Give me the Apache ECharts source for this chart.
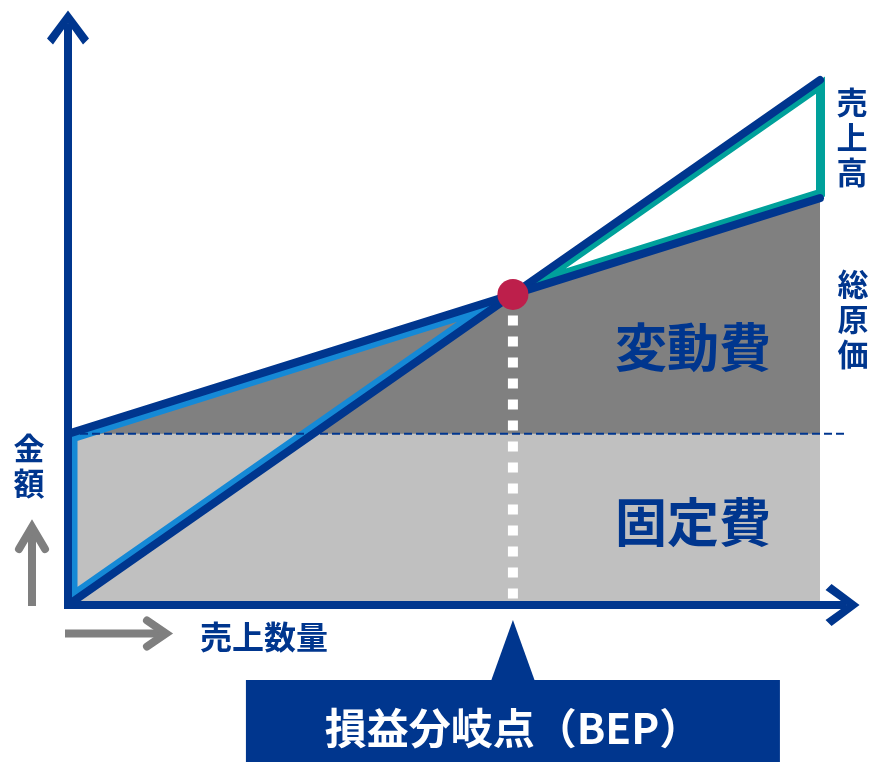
<!DOCTYPE html>
<html><head><meta charset="utf-8">
<script src="https://cdn.jsdelivr.net/npm/echarts@6/dist/echarts.min.js"></script>
<style>html,body{margin:0;padding:0;background:#fff}#c{width:870px;height:762px}</style>
</head><body><div id="c"></div>
<script>
// ---- data ----
const quantity = [0, 100];          // 売上数量 (start, end)
const sales = [0, 100];             // 売上高
const totalCost = [32.6, 77.5];     // 総原価
const fixedCost = [32.6, 32.6];     // 固定費
const lineLabels = ['売上高', '総原価'];
const areaLabels = ['変動費', '固定費'];
const axisNames = ['売上数量', '金額'];
const bepLabel = '損益分岐点（BEP）';

// ---- derived break-even point ----
const salesSlope = (sales[1] - sales[0]) / (quantity[1] - quantity[0]);
const costSlope = (totalCost[1] - totalCost[0]) / (quantity[1] - quantity[0]);
const bepX = (totalCost[0] - sales[0]) / (salesSlope - costSlope);
const bepY = sales[0] + salesSlope * bepX;

const zip = (a, b) => a.map((v, i) => [v, b[i]]);
const NAVY = '#00368e', LBLUE = '#1589d6', TEAL = '#00a19b', GRAY = '#7f7f7f';
const FONT = '"Noto Sans CJK JP", "Noto Sans", sans-serif';
const CHEVRON = 'path://M21,0L42,28L36,34L21,13L6,34L0,28Z';

const chart = echarts.init(document.getElementById('c'), null, {renderer: 'canvas'});

function vtext(str) { return str.split('').join('\n'); }

const option = {
  animation: false,
  backgroundColor: '#fff',
  grid: {left: 68, right: 27.44, top: 27.5, bottom: 157, outerBoundsMode: 'none', containLabel: false},
  xAxis: {
    type: 'value', min: 0, max: 103, z: 10,
    axisLine: {show: true, symbol: ['none', CHEVRON], symbolSize: [42, 34],
      lineStyle: {color: NAVY, width: 8, cap: 'square'}},
    axisTick: {show: false}, axisLabel: {show: false}, splitLine: {show: false}
  },
  yAxis: {
    type: 'value', min: 0, max: 110, z: 10,
    axisLine: {show: true, symbol: ['none', CHEVRON], symbolSize: [42, 34],
      lineStyle: {color: NAVY, width: 8, cap: 'square'}},
    axisTick: {show: false}, axisLabel: {show: false}, splitLine: {show: false}
  },
  graphic: [
    // vertical labels on the right
    {type: 'text', x: 852, y: 137, z: 20, style: {text: vtext(lineLabels[0]), fill: NAVY, fontSize: 31, fontWeight: 'bold', fontFamily: FONT, lineHeight: 35, textAlign: 'center', textVerticalAlign: 'middle'}},
    {type: 'text', x: 853, y: 319, z: 20, style: {text: vtext(lineLabels[1]), fill: NAVY, fontSize: 31, fontWeight: 'bold', fontFamily: FONT, lineHeight: 35, textAlign: 'center', textVerticalAlign: 'middle'}},
    // area labels
    {type: 'text', x: 693, y: 347, z: 20, style: {text: areaLabels[0], fill: NAVY, fontSize: 52, fontWeight: 'bold', fontFamily: FONT, textAlign: 'center', textVerticalAlign: 'middle'}},
    {type: 'text', x: 693, y: 522, z: 20, style: {text: areaLabels[1], fill: NAVY, fontSize: 52, fontWeight: 'bold', fontFamily: FONT, textAlign: 'center', textVerticalAlign: 'middle'}},
    // axis names
    {type: 'text', x: 264, y: 637, z: 20, style: {text: axisNames[0], fill: NAVY, fontSize: 32, fontWeight: 'bold', fontFamily: FONT, textAlign: 'center', textVerticalAlign: 'middle'}},
    {type: 'text', x: 29, y: 466, z: 20, style: {text: vtext(axisNames[1]), fill: NAVY, fontSize: 31, fontWeight: 'bold', fontFamily: FONT, lineHeight: 35, textAlign: 'center', textVerticalAlign: 'middle'}},
    // gray direction arrows
    {type: 'polyline', z: 20, shape: {points: [[32, 606], [32, 528]]}, style: {stroke: GRAY, lineWidth: 8, fill: null}},
    {type: 'polyline', z: 20, shape: {points: [[19, 549], [32, 527], [45, 549]]}, style: {stroke: GRAY, lineWidth: 8, fill: null, lineCap: 'round', lineJoin: 'miter'}},
    {type: 'polyline', z: 20, shape: {points: [[65, 633.5], [165, 633.5]]}, style: {stroke: GRAY, lineWidth: 8, fill: null}},
    {type: 'polyline', z: 20, shape: {points: [[147, 620.5], [166, 633.5], [147, 646.5]]}, style: {stroke: GRAY, lineWidth: 8, fill: null, lineCap: 'round', lineJoin: 'miter'}}
  ],
  series: [
    { // variable cost area (under total cost line)
      type: 'line', z: 1, silent: true, symbol: 'none',
      data: zip(quantity, totalCost),
      lineStyle: {width: 0}, areaStyle: {color: '#808080', opacity: 1}
    },
    { // fixed cost area
      type: 'line', z: 2, silent: true, symbol: 'none',
      data: zip(quantity, fixedCost),
      lineStyle: {width: 0}, areaStyle: {color: '#c0c0c0', opacity: 1}
    },
    { // loss / profit triangle inner outlines
      type: 'custom', z: 3, silent: true,
      data: [[bepX, bepY]],
      renderItem: function (params, api) {
        const a = api.coord([quantity[0], totalCost[0]]);
        const b = api.coord([quantity[0], sales[0]]);
        const p = api.coord([bepX, bepY]);
        const s = api.coord([quantity[1], sales[1]]);
        const t = api.coord([quantity[1], totalCost[1]]);
        const loss = [a, p, b];
        const prof = [p, [s[0] + 5, s[1] - 3.5], [t[0] + 5, t[1] - 1.6]];
        return {type: 'group', children: [
          {type: 'polygon', shape: {points: loss}, style: {fill: 'none', stroke: LBLUE, lineWidth: 19, lineJoin: 'miter', miterLimit: 50},
           clipPath: {type: 'polygon', shape: {points: loss}}},
          {type: 'polygon', shape: {points: prof}, style: {fill: '#fff', stroke: TEAL, lineWidth: 18, lineJoin: 'miter', miterLimit: 50},
           clipPath: {type: 'polygon', shape: {points: prof}}}
        ]};
      }
    },
    { // fixed cost dashed reference
      type: 'line', z: 4, silent: true, symbol: 'none', clip: false,
      data: [[quantity[0], fixedCost[0]], [105.3, fixedCost[1]]],
      lineStyle: {color: NAVY, width: 2, type: [8, 4]}
    },
    { // sales line
      type: 'line', z: 5, silent: true, symbol: 'none',
      data: zip(quantity, sales),
      lineStyle: {color: NAVY, width: 8, cap: 'round'}
    },
    { // total cost line
      type: 'line', z: 5, silent: true, symbol: 'none',
      data: zip(quantity, totalCost),
      lineStyle: {color: NAVY, width: 8, cap: 'round'}
    },
    { // BEP drop line
      type: 'line', z: 6, silent: true, symbol: 'none',
      data: [[bepX, bepY], [bepX, 0]],
      lineStyle: {color: '#fff', width: 10, type: [10, 11]}
    },
    { // BEP point
      type: 'scatter', z: 7, silent: true,
      data: [[bepX, bepY]], symbolSize: 31,
      itemStyle: {color: '#bd1f4b', opacity: 1}
    },
    { // BEP callout
      type: 'custom', z: 8, silent: true, clip: false,
      data: [[bepX, 0]],
      renderItem: function (params, api) {
        const q = api.coord([bepX, 0]);
        const bx = q[0], y0 = q[1];
        return {type: 'group', children: [
          {type: 'polygon', shape: {points: [[bx, y0 + 15], [bx - 23, y0 + 79], [bx + 23, y0 + 79]]}, style: {fill: NAVY}},
          {type: 'rect', shape: {x: bx - 267, y: y0 + 75, width: 534, height: 100}, style: {fill: NAVY}},
          {type: 'text', style: {text: bepLabel, x: bx, y: y0 + 123, fill: '#fff', fontSize: 42, fontWeight: 'bold', fontFamily: FONT, textAlign: 'center', textVerticalAlign: 'middle'}}
        ]};
      }
    }
  ]
};
chart.setOption(option);
</script></body></html>
